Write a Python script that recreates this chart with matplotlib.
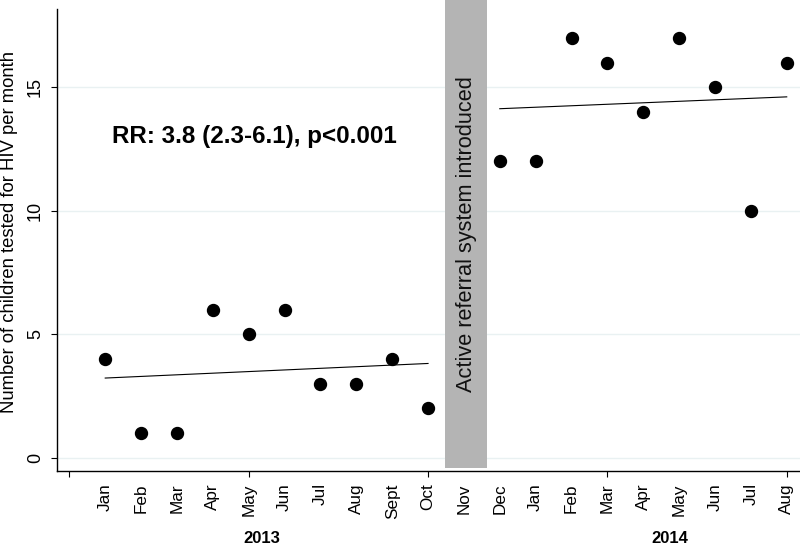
import matplotlib
matplotlib.use("Agg")
import matplotlib.pyplot as plt
from matplotlib.patches import Rectangle
from matplotlib.transforms import blended_transform_factory

plt.rcParams['font.family'] = ['Liberation Sans', 'DejaVu Sans']

# month labels along the x axis (position 1..20)
months = ['Jan', 'Feb', 'Mar', 'Apr', 'May', 'Jun', 'Jul', 'Aug', 'Sept', 'Oct',
          'Nov', 'Dec', 'Jan', 'Feb', 'Mar', 'Apr', 'May', 'Jun', 'Jul', 'Aug']

# before the referral system (Jan-Oct 2013)
pre_x = [1, 2, 3, 4, 5, 6, 7, 8, 9, 10]
pre_y = [4, 1, 1, 6, 5, 6, 3, 3, 4, 2]

# after (Dec 2013 - Aug 2014)
post_x = [12, 13, 14, 15, 16, 17, 18, 19, 20]
post_y = [12, 12, 17, 16, 14, 17, 15, 10, 16]

# fitted trend lines (end points)
pre_fit_x = [1, 10]
pre_fit_y = [3.23, 3.82]
post_fit_x = [12, 20]
post_fit_y = [14.13, 14.61]

# intervention band
band_x = (10.47, 11.65)
band_y = (-0.42, 18.6)

fig = plt.figure(figsize=(8, 5.46), dpi=100)
ax = fig.add_axes([0.071, 0.137, 0.929, 0.863])

ax.set_xlim(-0.35, 20.37)
ax.set_ylim(-0.54, 18.53)

# light horizontal grid
for yv in [0, 5, 10, 15]:
    ax.axhline(yv, color='#e9f1f2', lw=1.0, zorder=0)

ax.add_patch(Rectangle((band_x[0], band_y[0]), band_x[1] - band_x[0],
                       band_y[1] - band_y[0], facecolor='#b4b4b4',
                       edgecolor='none', zorder=1, clip_on=False))
ax.text(sum(band_x) / 2, 9.05, 'Active referral system introduced',
        rotation=90, ha='center', va='center', fontsize=15.7,
        color='#111111', zorder=2)

ax.plot(pre_x, pre_y, 'o', color='black', ms=8.6, zorder=3)
ax.plot(post_x, post_y, 'o', color='black', ms=8.6, zorder=3)
ax.plot(pre_fit_x, pre_fit_y, color='black', lw=0.8, zorder=3)
ax.plot(post_fit_x, post_fit_y, color='black', lw=0.8, zorder=3)

ax.text(1.2, 13.0, 'RR: 3.8 (2.3-6.1), p<0.001', fontsize=17.4,
        fontweight='bold', ha='left', va='center')

# spines
for s in ['top', 'right']:
    ax.spines[s].set_visible(False)
ax.spines['left'].set_bounds(-0.54, 18.16)
ax.spines['left'].set_linewidth(1.0)
ax.spines['bottom'].set_linewidth(1.0)

# y axis
ax.set_yticks([0, 5, 10, 15])
ax.set_yticklabels(['0', '5', '10', '15'], rotation=90, va='center')
ax.tick_params(axis='y', length=4.3, width=0.8, pad=5, labelsize=13)
ax.set_ylabel('Number of children tested for HIV per month', fontsize=13.3,
              va='center')
ax.yaxis.set_label_coords(-0.064, 0.508)

# x axis: unlabeled major ticks every 5, month labels without tick marks
ax.xaxis.remove_overlapping_locs = False
ax.set_xticks([0, 5, 10, 15, 20])
ax.set_xticklabels([])
ax.set_xticks(range(1, 21), minor=True)
ax.set_xticklabels(months, minor=True, rotation=90, va='top', ha='center')
ax.tick_params(axis='x', which='major', length=4.3, width=0.8)
ax.tick_params(axis='x', which='minor', length=0, pad=8.6, labelsize=12.3)

trans = blended_transform_factory(ax.transData, ax.transAxes)
ax.text(5.37, -0.142, '2013', transform=trans, ha='center', va='center',
        fontsize=12, fontweight='bold')
ax.text(16.73, -0.142, '2014', transform=trans, ha='center', va='center',
        fontsize=12, fontweight='bold')

fig.savefig('out.png', dpi=100)
